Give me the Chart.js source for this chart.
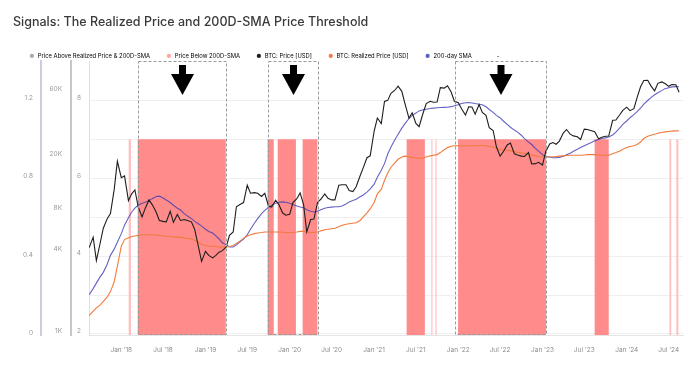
<!DOCTYPE html>
<html><head><meta charset="utf-8">
<script src="https://cdn.jsdelivr.net/npm/chart.js@4.4.1/dist/chart.umd.min.js"></script>
<style>html,body{margin:0;padding:0;background:#fff;}#wrap{position:relative;width:700px;height:365px;}</style>
</head><body><div id="wrap"><canvas id="c"></canvas></div>
<script>
const dates = [
'2017-08-15','2017-09-01','2017-09-15','2017-10-01','2017-10-15','2017-11-01','2017-11-15','2017-12-01','2017-12-15',
'2018-01-01','2018-01-15','2018-02-01','2018-02-15','2018-03-01','2018-03-15','2018-04-01','2018-04-15','2018-05-01','2018-05-15','2018-06-01','2018-06-15','2018-07-01','2018-07-15','2018-08-01','2018-08-15','2018-09-01','2018-09-15','2018-10-01','2018-10-15','2018-11-01','2018-11-15','2018-12-01','2018-12-15',
'2019-01-01','2019-01-15','2019-02-01','2019-02-15','2019-03-01','2019-03-15','2019-04-01','2019-04-15','2019-05-01','2019-05-15','2019-06-01','2019-06-15','2019-07-01','2019-07-15','2019-08-01','2019-08-15','2019-09-01','2019-09-15','2019-10-01','2019-10-15','2019-11-01','2019-11-15','2019-12-01','2019-12-15',
'2020-01-01','2020-01-15','2020-02-01','2020-02-15','2020-03-01','2020-03-15','2020-04-01','2020-04-15','2020-05-01','2020-05-15','2020-06-01','2020-06-15','2020-07-01','2020-07-15','2020-08-01','2020-08-15','2020-09-01','2020-09-15','2020-10-01','2020-10-15','2020-11-01','2020-11-15','2020-12-01','2020-12-15',
'2021-01-01','2021-01-15','2021-02-01','2021-02-15','2021-03-01','2021-03-15','2021-04-01','2021-04-15','2021-05-01','2021-05-15','2021-06-01','2021-06-15','2021-07-01','2021-07-15','2021-08-01','2021-08-15','2021-09-01','2021-09-15','2021-10-01','2021-10-15','2021-11-01','2021-11-15','2021-12-01','2021-12-15',
'2022-01-01','2022-01-15','2022-02-01','2022-02-15','2022-03-01','2022-03-15','2022-04-01','2022-04-15','2022-05-01','2022-05-15','2022-06-01','2022-06-15','2022-07-01','2022-07-15','2022-08-01','2022-08-15','2022-09-01','2022-09-15','2022-10-01','2022-10-15','2022-11-01','2022-11-15','2022-12-01','2022-12-15',
'2023-01-01','2023-01-15','2023-02-01','2023-02-15','2023-03-01','2023-03-15','2023-04-01','2023-04-15','2023-05-01','2023-05-15','2023-06-01','2023-06-15','2023-07-01','2023-07-15','2023-08-01','2023-08-15','2023-09-01','2023-09-15','2023-10-01','2023-10-15','2023-11-01','2023-11-15','2023-12-01','2023-12-15',
'2024-01-01','2024-01-15','2024-02-01','2024-02-15','2024-03-01','2024-03-15','2024-04-01','2024-04-15','2024-05-01','2024-05-15','2024-06-01','2024-06-15','2024-07-01','2024-07-15','2024-08-01','2024-08-15'
];
const btcPrice = [
4100,4900,3300,4400,5700,6700,7300,10900,17700,
13400,13800,9100,10200,10900,8200,6900,8000,9200,8500,7500,6500,6400,6350,7600,6300,7200,6500,6600,6500,6350,5600,4200,3250,
3850,3600,3450,3600,3800,3900,4150,5050,5350,8200,8550,8800,11800,10300,10400,10300,9750,10300,8300,8150,9150,8500,7400,7100,
7200,8800,9400,10350,8550,5350,6600,6650,8850,9300,10200,9450,9200,9200,11800,11900,11900,10800,10600,11500,13800,15900,18800,19400,
29400,36800,33500,48700,49600,55900,58900,63100,57800,46700,36700,40200,33600,31800,39900,47000,48800,48100,48200,61500,61000,63600,57200,48900,
47700,43100,38700,44500,44400,39300,46300,40500,38500,31300,29800,22600,19300,20800,23300,24100,20100,19700,19300,19200,20500,16900,17000,17400,
16600,20900,23700,24300,23600,24900,28500,30300,28000,27200,26800,25600,30500,30300,29700,29200,25900,26600,27000,27100,35400,35600,38700,41900,
44200,41700,43100,51900,62400,69500,69700,63400,58300,66200,67800,66000,62900,64800,64600,57000
];
const realizedPrice = [
1300,1400,1480,1550,1650,1780,1950,2300,3000,
4200,4700,4850,4950,5000,5050,5080,5100,5100,5100,5080,5050,5000,4980,4950,4920,4900,4880,4850,4800,4750,4650,4500,4350,
4250,4220,4200,4180,4150,4150,4150,4180,4250,4400,4600,4800,5000,5100,5200,5250,5300,5350,5350,5350,5350,5340,5320,5300,
5300,5300,5350,5400,5400,5350,5300,5300,5350,5450,5550,5600,5650,5700,5850,6000,6100,6150,6200,6250,6500,6900,7400,7900,
8800,10200,11000,12800,14500,16000,17200,18300,19000,19300,19100,18900,18700,18600,18700,19000,19400,19600,19800,20500,21500,22300,22800,23000,
23000,23000,22900,23000,23000,23000,23100,23100,23000,22800,22500,22000,21600,21400,21300,21200,20800,20600,20400,20200,20000,19700,19400,19200,
19100,19000,19000,19100,19200,19300,19400,19500,19600,19600,19600,19600,19700,19800,19800,19800,19700,19600,19600,19600,20100,20500,21000,21700,
22300,22700,23000,23500,24500,26000,27000,27500,28000,28400,28800,29100,29300,29500,29600,29700
];
const sma200 = [
1850,2050,2250,2500,2700,3100,3600,4000,4500,
5200,6000,6800,7500,8000,8400,8700,8850,9100,9400,9750,9800,9500,9200,8800,8400,8000,7750,7300,7000,6700,6400,6150,5900,
5600,5400,5250,5000,4750,4450,4300,4150,4150,4300,4550,4750,5100,5600,6200,6700,7300,7700,8100,8400,8700,8850,8900,8850,
8700,8500,8300,8150,8050,7800,7600,7500,7600,7800,8000,8100,8150,8200,8200,8300,8600,8900,9100,9300,9700,10000,10500,11100,
12000,13500,15200,17000,20000,22500,25500,28000,31000,33500,36500,38500,40000,41500,42300,42700,43200,43500,43800,44000,44100,44200,44600,45300,
46000,47000,47600,47800,47500,47000,46500,46000,44500,42500,40500,38500,37000,35000,33000,31500,30000,29000,27500,26000,24500,23500,22000,21000,
19800,19200,19000,18800,18800,18900,19300,19800,20300,21000,21700,22300,23000,23600,24300,25000,25600,26000,26300,26700,27600,29000,31000,33000,
35000,37000,39000,41000,43500,46500,49500,52000,54500,56500,58500,60500,61500,62300,62600,62500
];
// periods where price is below the 200-day SMA (signal = 1)
const belowStart = ['2018-03-13','2019-09-27','2019-11-10','2020-02-26','2021-05-22','2021-12-31','2023-08-15'];
const belowEnd   = ['2019-03-30','2019-10-24','2020-01-28','2020-04-30','2021-08-09','2023-01-16','2023-10-15'];
// very short dips (thin pale stripes)
const briefStart = ['2018-02-02','2021-09-06','2021-09-24','2024-07-04','2024-08-03'];
const briefEnd   = ['2018-02-12','2021-09-11','2021-09-29','2024-07-12','2024-08-12'];
// highlighted windows (dashed boxes with arrows)
const boxStart = ['2018-03-14','2019-09-28','2021-12-17'];
const boxEnd   = ['2019-03-31','2020-05-03','2023-01-16'];
const xMin = '2017-08-14', xMax = '2024-09-01';
const xTickDates = ['2018-01-01','2018-07-01','2019-01-01','2019-07-01','2020-01-01','2020-07-01','2021-01-01','2021-07-01','2022-01-01','2022-07-01','2023-01-01','2023-07-01','2024-01-01','2024-07-01'];
const xTickLabels = ["Jan '18","Jul '18","Jan '19","Jul '19","Jan '20","Jul '20","Jan '21","Jul '21","Jan '22","Jul '22","Jan '23","Jul '23","Jan '24","Jul '24"];
const sigTicks = [0,0.4,0.8,1.2];
const sigLabels = ['0','0.4','0.8','1.2'];
const priceTicks = [1000,4000,8000,20000,60000];
const priceLabels = ['1K','4K','8K','20K','60K'];
const idxTicks = [2,3,4,5,6,7,8];
const idxLabels = ['2','','4','','6','','8'];

const toX = s => Date.parse(s + 'T00:00:00Z');
const series = vals => dates.map((d,i) => ({x: toX(d), y: vals[i]}));
function periodsToPoints(starts, ends){
  const pts = [{x: toX(xMin), y: 0}];
  starts.forEach((s,i) => {
    pts.push({x: toX(s), y: 0}, {x: toX(s), y: 1}, {x: toX(ends[i]), y: 1}, {x: toX(ends[i]), y: 0});
  });
  pts.push({x: toX(xMax), y: 0});
  return pts;
}

const annot = {
  id: 'annot',
  afterDatasetsDraw(chart){
    const {ctx, chartArea: {top, bottom}, scales: {x}} = chart;
    ctx.save();
    boxStart.forEach((s,i) => {
      const x0 = Math.round(x.getPixelForValue(toX(s))) + 0.5;
      const x1 = Math.round(x.getPixelForValue(toX(boxEnd[i]))) + 0.5;
      ctx.strokeStyle = '#9a9a9a'; ctx.lineWidth = 1; ctx.setLineDash([3,2]);
      ctx.strokeRect(x0, top + 0.5, x1 - x0, bottom - top - 1);
      const cx = (x0 + x1) / 2;
      ctx.setLineDash([]);
      ctx.fillStyle = '#000';
      ctx.fillRect(cx - 3.5, top + 4, 7, 10);
      ctx.beginPath();
      ctx.moveTo(cx - 11.5, top + 13);
      ctx.lineTo(cx + 11.5, top + 13);
      ctx.lineTo(cx, top + 34);
      ctx.closePath();
      ctx.fill();
    });
    ctx.restore();
  }
};

const tickFont = {family: 'Inter', size: 6.5};
new Chart(document.getElementById('c'), {
  type: 'line',
  data: { datasets: [
    {label: 'Price Above Realized Price & 200D-SMA', data: [], yAxisID: 'ySig', legendColor: '#9db3a6', pointRadius: 0, order: 6},
    {label: 'Price Below 200D-SMA', data: periodsToPoints(belowStart, belowEnd), yAxisID: 'ySig', backgroundColor: '#ff8b8b', borderWidth: 0, fill: 'origin', pointRadius: 0, legendColor: '#ffa3a3', order: 5},
    {label: 'BTC: Price [USD]', data: series(btcPrice), yAxisID: 'yPrice', borderColor: '#1e1e1e', borderWidth: 1.1, pointRadius: 0, legendColor: '#1e1e1e', order: 1},
    {label: 'BTC: Realized Price [USD]', data: series(realizedPrice), yAxisID: 'yPrice', borderColor: '#f07b3c', borderWidth: 1.1, pointRadius: 0, legendColor: '#f07b4a', order: 2},
    {label: '200-day SMA', data: series(sma200), yAxisID: 'yPrice', borderColor: 'rgba(60,60,180,0.8)', borderWidth: 1.1, pointRadius: 0, legendColor: '#5a5fc0', order: 3},
    {label: '', data: periodsToPoints(briefStart, briefEnd), yAxisID: 'ySig', backgroundColor: '#ffc0c0', borderWidth: 0, fill: 'origin', pointRadius: 0, order: 7}
  ]},
  options: {
    responsive: true, maintainAspectRatio: false, animation: false,
    layout: {padding: {left: 13, right: 17, top: 0, bottom: 10}},
    plugins: {
      title: {display: true, text: 'Signals: The Realized Price and 200D-SMA Price Threshold', align: 'start', color: '#3a3a3a',
        font: {family: 'Inter', size: 12.5, weight: '500'}, padding: {top: 15, bottom: 7}},
      legend: {display: true, align: 'start', maxHeight: 24,
        labels: {usePointStyle: true, boxWidth: 6, boxHeight: 3, padding: 16, color: '#888', font: {family: 'Inter', size: 5.85},
          generateLabels: (chart) => {
            const items = chart.data.datasets.map((ds,i) => ({text: ds.label, fillStyle: ds.legendColor, strokeStyle: ds.legendColor, lineWidth: 0, pointStyle: 'circle', hidden: false, datasetIndex: i})).filter(it => it.text);
            items.push({text: '-', fillStyle: 'rgba(0,0,0,0)', strokeStyle: 'rgba(0,0,0,0)', lineWidth: 0, pointStyle: 'circle', hidden: false, datasetIndex: -1});
            return items;
          }}},
      tooltip: {enabled: false}
    },
    scales: {
      x: {type: 'linear', min: toX(xMin), max: toX(xMax),
        grid: {display: false, drawTicks: false}, border: {display: true, color: '#e4e4e4'},
        ticks: {autoSkip: false, maxRotation: 0, padding: 11, color: '#8c8c8c', font: tickFont, callback: (v,i) => xTickLabels[i]},
        afterBuildTicks: s => { s.ticks = xTickDates.map(d => ({value: toX(d)})); },
        afterFit: s => { s.height = 20; }},
      ySig: {type: 'linear', position: 'left', weight: 2, min: 0, max: 1.4,
        grid: {display: false, drawTicks: false}, border: {display: true, color: '#c9cde6', width: 2},
        ticks: {padding: 8, labelOffset: -2, color: '#999', font: tickFont, callback: (v,i) => sigLabels[i]},
        afterBuildTicks: s => { s.ticks = sigTicks.map(v => ({value: v})); },
        afterFit: s => { s.width = 28; }},
      yPrice: {type: 'logarithmic', position: 'left', weight: 1, min: 935, max: 96600,
        grid: {display: false, drawTicks: false}, border: {display: true, color: '#c6c6c6', width: 2},
        ticks: {padding: 9, color: '#999', font: tickFont, callback: (v,i) => priceLabels[i]},
        afterBuildTicks: s => { s.ticks = priceTicks.map(v => ({value: v})); },
        afterFit: s => { s.width = 30; }},
      yIdx: {type: 'linear', position: 'left', weight: 0, min: 1.97, max: 9.03,
        grid: {display: true, color: '#efefef', drawTicks: false}, border: {display: true, color: '#d2e6de', width: 1},
        ticks: {padding: 8, labelOffset: -3, color: '#999', font: tickFont, callback: (v,i) => idxLabels[i]},
        afterBuildTicks: s => { s.ticks = idxTicks.map(v => ({value: v})); },
        afterFit: s => { s.width = 18; }}
    }
  },
  plugins: [annot]
});
</script></body></html>
